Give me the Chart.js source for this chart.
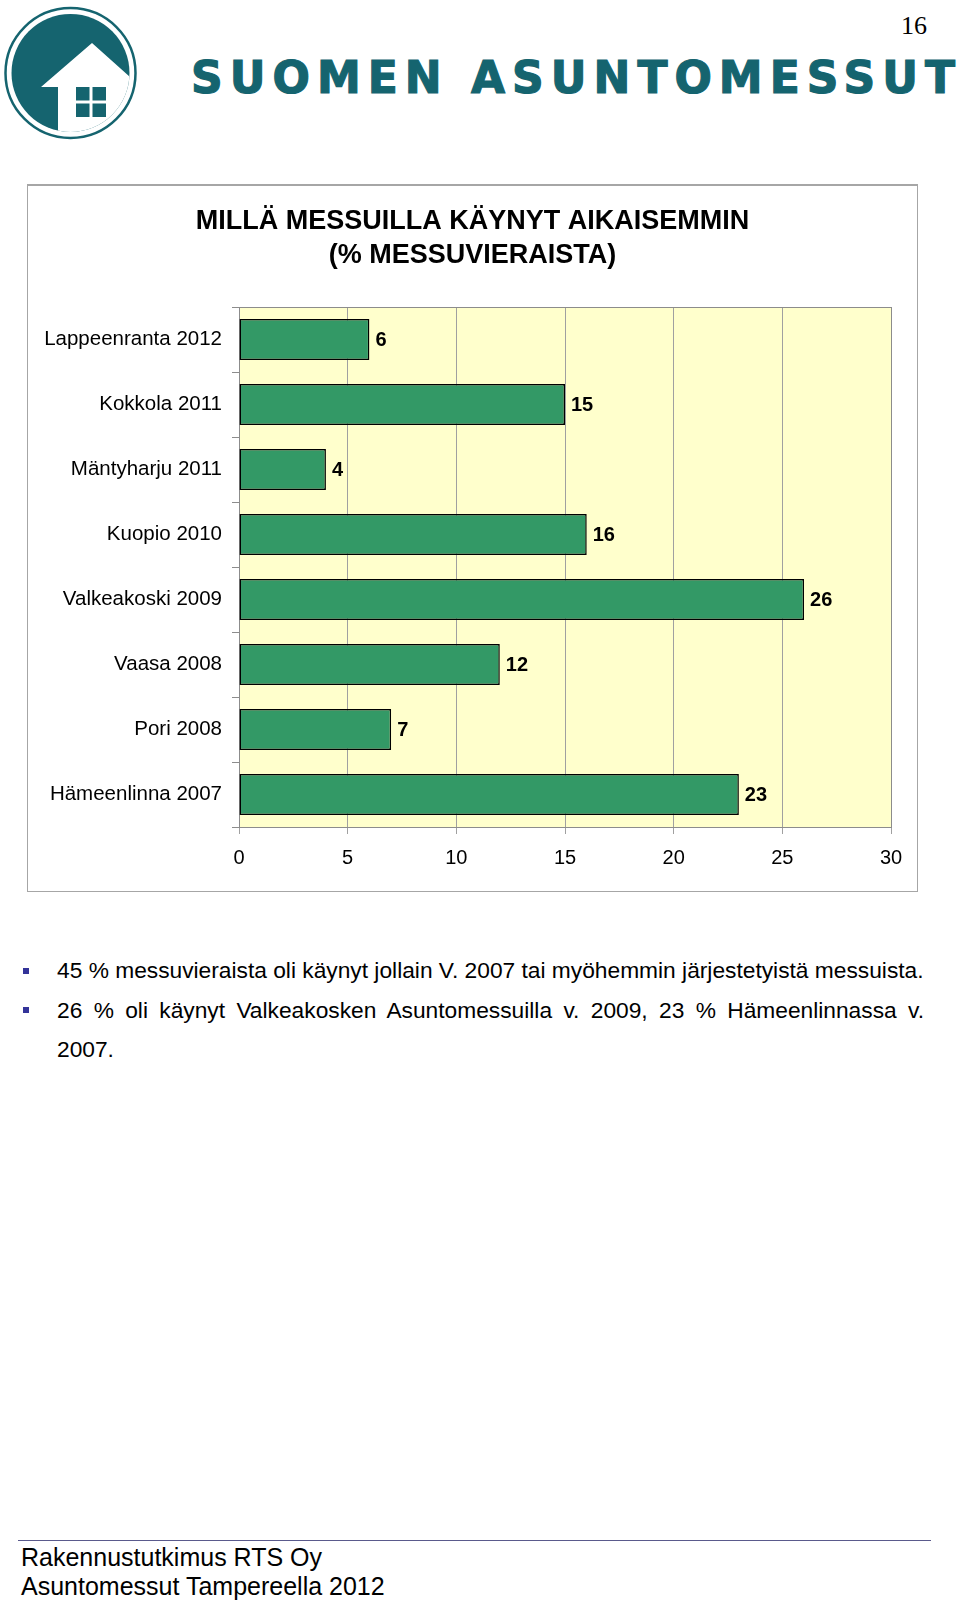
<!DOCTYPE html>
<html lang="fi">
<head>
<meta charset="utf-8">
<title>Millä messuilla käynyt aikaisemmin</title>
<script src="https://cdn.jsdelivr.net/npm/chart.js@4.4.0/dist/chart.umd.min.js"></script>
<style>
  html, body { margin: 0; padding: 0; background: #fff; }
  #sivu { position: relative; width: 960px; height: 1601px; overflow: hidden; }
  #otsake { position: absolute; left: 0; top: 0; }
  #kaavio-laatikko {
    position: absolute; left: 27px; top: 184px; width: 889px; height: 705px;
    border: 1px solid #a6a6a6; border-top-width: 2px;
  }
  #kaavio { position: absolute; left: 0; top: 0; }
  .luettelo {
    position: absolute; left: 57px; width: 867px;
    font-family: "Liberation Sans Narrow", "Arial Narrow", "Liberation Sans", sans-serif;
    font-size: 22.75px; line-height: 39.5px; color: #000; white-space: nowrap;
  }
  .tasattu { text-align: justify; text-align-last: justify; }
  .pallo { position: absolute; left: 23px; width: 6px; height: 6px; background: #333399; }
  #viiva { position: absolute; left: 18px; top: 1540px; width: 913px; height: 1px; background: #5a5a8c; }
  #alatunniste {
    position: absolute; left: 21px; top: 1543px;
    font-family: "Liberation Sans Narrow", "Arial Narrow", "Liberation Sans", sans-serif;
    font-size: 25px; line-height: 28.5px; color: #000;
  }
</style>
</head>
<body>
<div id="sivu">
  <svg id="otsake" width="960" height="150" viewBox="0 0 960 150">
    <defs>
      <clipPath id="kiekko"><circle cx="70.5" cy="73" r="59"/></clipPath>
    </defs>
    <circle cx="70.5" cy="73" r="65" fill="#fff" stroke="#15646f" stroke-width="2.5"/>
    <circle cx="70.5" cy="73" r="59" fill="#15646f"/>
    <polygon clip-path="url(#kiekko)" fill="#fff"
      points="92,43 150,95 150,150 58,150 58,87 41,87"/>
    <rect x="76" y="87" width="13.5" height="13.5" fill="#15646f"/>
    <rect x="92.5" y="87" width="13.5" height="13.5" fill="#15646f"/>
    <rect x="76" y="103.5" width="13.5" height="13.5" fill="#15646f"/>
    <rect x="92.5" y="103.5" width="13.5" height="13.5" fill="#15646f"/>
    <text x="191" y="93" textLength="764" lengthAdjust="spacing"
      font-family="DejaVu Sans" font-weight="bold" font-size="44" fill="#15646f"
      stroke="#15646f" stroke-width="1.2">SUOMEN ASUNTOMESSUT</text>
    <text x="901" y="34" font-family="Liberation Serif" font-size="26" fill="#000">16</text>
  </svg>

  <div id="kaavio-laatikko">
    <canvas id="kaavio" width="889" height="705"></canvas>
  </div>

  <div class="pallo" style="top:968px"></div>
  <div class="pallo" style="top:1007px"></div>
  <div class="luettelo" style="top:951px">45 % messuvieraista oli käynyt jollain V. 2007 tai myöhemmin järjestetyistä messuista.</div>
  <div class="luettelo tasattu" style="top:990.5px">26 % oli käynyt Valkeakosken Asuntomessuilla v. 2009, 23 % Hämeenlinnassa v.</div>
  <div class="luettelo" style="top:1030px">2007.</div>

  <div id="viiva"></div>
  <div id="alatunniste">Rakennustutkimus RTS Oy<br>Asuntomessut Tampereella 2012</div>
</div>

<script>
const messut = ["Lappeenranta 2012", "Kokkola 2011", "Mäntyharju 2011", "Kuopio 2010",
  "Valkeakoski 2009", "Vaasa 2008", "Pori 2008", "Hämeenlinna 2007"];
const osuudet = [6, 15, 4, 16, 26, 12, 7, 23];
const otsikko = ["MILLÄ MESSUILLA KÄYNYT AIKAISEMMIN", "(% MESSUVIERAISTA)"];

const kapea = '"Liberation Sans Narrow", "Arial Narrow", "Liberation Sans", sans-serif';
const tavallinen = '"Liberation Sans", Arial, sans-serif';

// keltainen tausta ja harmaa kehys piirtoalueelle
const taustaPlugin = {
  id: "tausta",
  beforeDraw(chart) {
    const { ctx, chartArea: a } = chart;
    ctx.save();
    ctx.fillStyle = "#ffffcc";
    ctx.fillRect(a.left, a.top, a.right - a.left, a.bottom - a.top);
    ctx.restore();
  },
  beforeDatasetsDraw(chart) {
    const { ctx, chartArea: a } = chart;
    ctx.save();
    ctx.strokeStyle = "#8c8c8c";
    ctx.lineWidth = 1;
    ctx.strokeRect(Math.round(a.left) + 0.5, Math.round(a.top) + 0.5,
      Math.round(a.right - a.left), Math.round(a.bottom - a.top));
    ctx.restore();
  }
};

// otsikko keskitetään koko laatikon leveydelle
const otsikkoPlugin = {
  id: "otsikko",
  afterDraw(chart) {
    const { ctx } = chart;
    ctx.save();
    ctx.font = "bold 27px " + kapea;
    ctx.fillStyle = "#000";
    ctx.textAlign = "center";
    ctx.textBaseline = "middle";
    otsikko.forEach((rivi, i) => {
      ctx.fillText(rivi, chart.width / 2, 36 + i * 33.4);
    });
    ctx.restore();
  }
};

// arvot palkkien perään
const arvoPlugin = {
  id: "arvot",
  afterDatasetsDraw(chart) {
    const { ctx } = chart;
    const meta = chart.getDatasetMeta(0);
    ctx.save();
    ctx.font = "bold 20px " + kapea;
    ctx.fillStyle = "#000";
    ctx.textAlign = "left";
    ctx.textBaseline = "middle";
    meta.data.forEach((palkki, i) => {
      ctx.fillText(String(osuudet[i]), palkki.x + 6, palkki.y + 1);
    });
    ctx.restore();
  }
};

const config = {
  type: "bar",
  data: {
    labels: messut,
    datasets: [{
      data: osuudet,
      backgroundColor: "#339966",
      borderColor: "#000",
      borderWidth: 1.5,
      borderSkipped: false,
      categoryPercentage: 1,
      barPercentage: 0.63,
    }],
  },
  options: {
    indexAxis: "y",
    responsive: false,
    animation: false,
    devicePixelRatio: 1,
    layout: { padding: { top: 121, right: 26, bottom: 14, left: 0 } },
    plugins: {
      legend: { display: false },
      tooltip: { enabled: false },
      title: { display: false },
    },
    scales: {
      x: {
        min: 0,
        max: 30,
        ticks: { stepSize: 5, color: "#000", font: { family: kapea, size: 20 }, padding: 12 },
        grid: { color: "#a0a0a0", tickLength: 7 },
        border: { color: "#8c8c8c" },
        afterFit(scale) { scale.height = 50; },
      },
      y: {
        ticks: { color: "#000", font: { family: tavallinen, size: 20.5 }, padding: 10 },
        grid: { drawOnChartArea: false, offset: true, tickLength: 7, color: "#8c8c8c" },
        border: { color: "#8c8c8c" },
        afterFit(scale) { scale.width = 211; },
      },
    },
  },
  plugins: [taustaPlugin, otsikkoPlugin, arvoPlugin],
};

new Chart(document.getElementById("kaavio").getContext("2d"), config);
</script>
</body>
</html>
